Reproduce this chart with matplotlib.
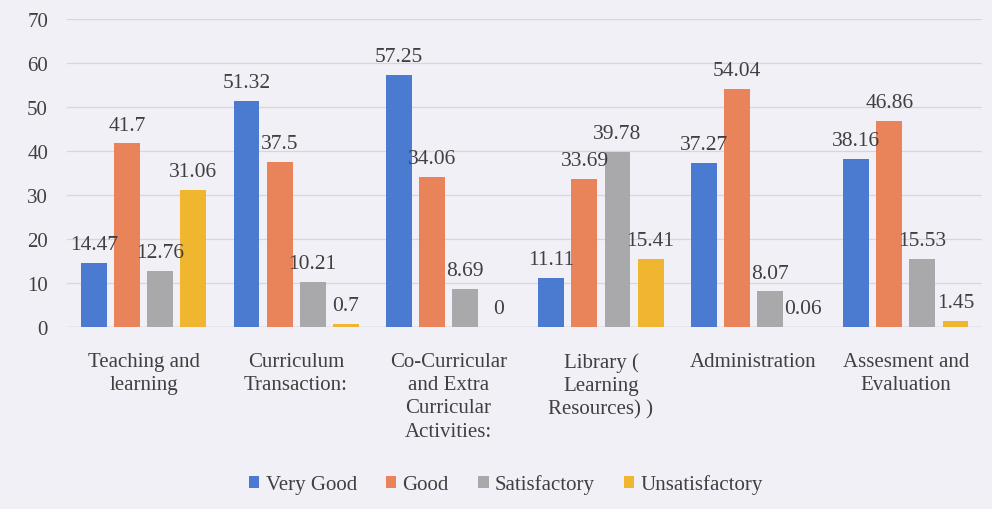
import matplotlib.pyplot as plt
import numpy as np

categories = ["Teaching and\nlearning", "Curriculum\nTransaction:",
              "Co-Curricular\nand Extra\nCurricular\nActivities:",
              "Library (\nLearning\nResources) )", "Administration",
              "Assesment and\nEvaluation"]
very_good = [14.47, 51.32, 57.25, 11.11, 37.27, 38.16]
good = [41.7, 37.5, 34.06, 33.69, 54.04, 46.86]
satisfactory = [12.76, 10.21, 8.69, 39.78, 8.07, 15.53]
unsatisfactory = [31.06, 0.7, 0, 15.41, 0.06, 1.45]

series = [("Very Good", very_good, "#4a7bd0"),
          ("Good", good, "#e9845a"),
          ("Satisfactory", satisfactory, "#a9a9ab"),
          ("Unsatisfactory", unsatisfactory, "#f1b630")]

plt.rcParams['font.family'] = ['Liberation Serif', 'DejaVu Serif']
bg = "#f1f0f7"

fig = plt.figure(figsize=(9.92, 5.10), dpi=100, facecolor=bg)
ax = fig.add_axes([0.068, 0.357, 0.922, 0.604], facecolor=bg)

x = np.arange(len(categories))
width = 0.17
step = 0.217
for i, (name, vals, color) in enumerate(series):
    pos = x + (i - 1.5) * step
    bars = ax.bar(pos, vals, width, color=color, label=name, zorder=3)
    for b, v in zip(bars, vals):
        ax.text(b.get_x() + b.get_width() / 2, v + 2.0, f"{v:g}",
                ha='center', va='bottom', fontsize=15.5, color="#404040", zorder=4)

ax.set_ylim(0, 70)
ax.set_yticks(range(0, 71, 10))
ax.set_xlim(-0.5, len(categories) - 0.5)
ax.set_xticks(x)
ax.set_xticklabels(categories, fontsize=15, color="#404040", linespacing=1.3)
ax.tick_params(axis='y', labelsize=15, labelcolor="#404040", length=0, pad=14)
ax.tick_params(axis='x', length=0, pad=18)
ax.grid(axis='y', color="#d6d6dc", linewidth=0.9, zorder=0)
for s in ax.spines.values():
    s.set_visible(False)
ax.axhline(0, color="#c8c8cc", linewidth=1, zorder=2)

fig.legend(loc='lower center', bbox_to_anchor=(0.51, -0.008), ncol=4, frameon=False,
           fontsize=15, handlelength=0.5, handleheight=0.5, handletextpad=0.3,
           columnspacing=1.4, labelcolor="#404040")

fig.savefig("out.png", dpi=100, facecolor=bg)
